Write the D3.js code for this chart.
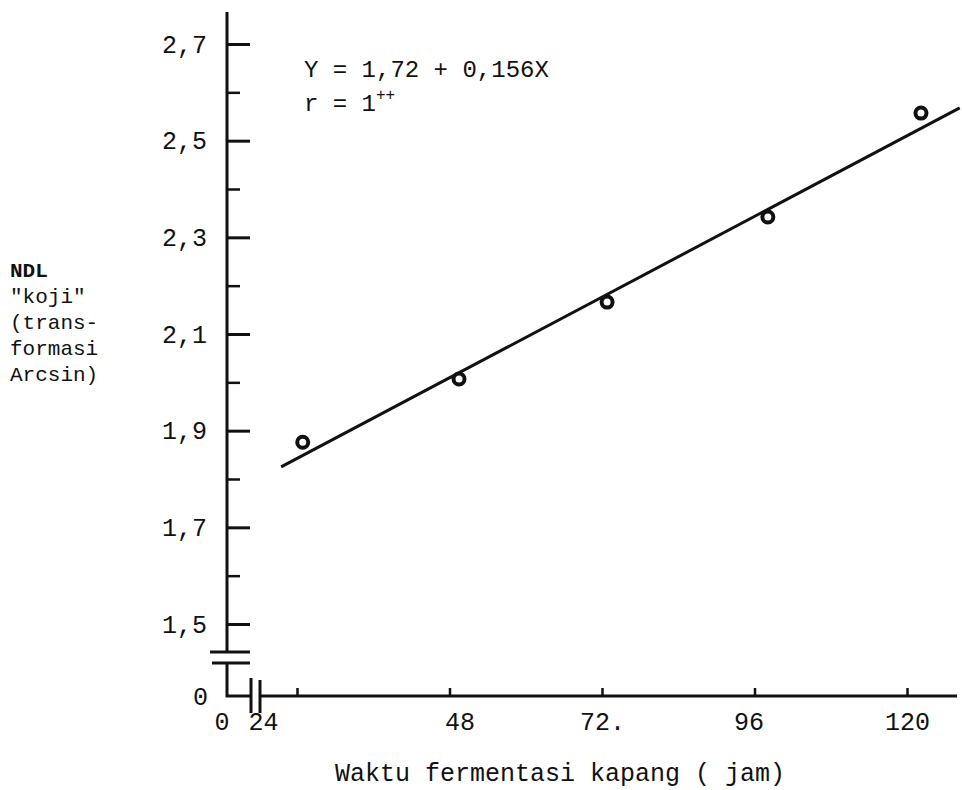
<!DOCTYPE html>
<html>
<head>
<meta charset="utf-8">
<script src="https://cdn.jsdelivr.net/npm/d3@7"></script>
<style>
  body { margin: 0; background: #fff; }
  text { font-family: "Liberation Mono", "Courier New", monospace; fill: #111; }
</style>
</head>
<body>
<div id="canvas"></div>
<script>
"use strict"

/* data */
let hours = [24.9, 49.5, 72.8, 98.1, 122.2];
let ndl = [1.876, 2.007, 2.166, 2.342, 2.557];

/* regression line, as drawn */
let lineX = [21.5, 128.3];
let lineY = [1.825, 2.568];

/* ticks */
let xTicks = [24, 48, 72, 96, 120];
let xTickLabels = ["24", "48", "72.", "96", "120"];
let yMajor = [1.5, 1.7, 1.9, 2.1, 2.3, 2.5, 2.7];
let yTickLabels = ["1,5", "1,7", "1,9", "2,1", "2,3", "2,5", "2,7"];
let yMinor = [1.6, 1.8, 2.0, 2.2, 2.4, 2.6];

let yLabelLines = ["NDL", "\"koji\"", "(trans-", "formasi", "Arcsin)"];

/* canvas */
let drawing = d3.select("#canvas")
    .append("svg")
    .attr("width", 962)
    .attr("height", 790);

let axisX = 227;      // y axis position (x = 0)
let baseY = 696;      // x axis position (y = 0)

let x = d3.scaleLinear().domain([24, 120]).range([297, 907]);
let y = d3.scaleLinear().domain([1.5, 2.7]).range([624, 44]);

let ink = "#111";

/* y axis line with break */
drawing.append("line")
    .attr("x1", axisX).attr("y1", 12)
    .attr("x2", axisX).attr("y2", 652)
    .attr("stroke", ink).attr("stroke-width", 3);

drawing.append("path")
    .attr("d", `M${axisX},663 V${baseY} H251`)
    .attr("fill", "none")
    .attr("stroke", ink).attr("stroke-width", 3);

/* break marks on y axis */
drawing.append("line")
    .attr("x1", 210).attr("y1", 652).attr("x2", 250).attr("y2", 652)
    .attr("stroke", ink).attr("stroke-width", 3);
drawing.append("line")
    .attr("x1", 212).attr("y1", 663).attr("x2", 250).attr("y2", 663)
    .attr("stroke", ink).attr("stroke-width", 3);

/* major ticks */
let yAxisMajor = d3.axisLeft(y)
    .tickValues(yMajor)
    .tickSize(-23)
    .tickPadding(20)
    .tickFormat((d, i) => yTickLabels[i]);

let gy = drawing.append("g")
    .attr("transform", `translate(${axisX},0)`)
    .call(yAxisMajor);
gy.select(".domain").remove();
gy.selectAll("line").attr("stroke", ink).attr("stroke-width", 3);
gy.selectAll("text")
    .attr("font-size", 25)
    .attr("font-family", "Liberation Mono");

/* minor ticks */
let gyMinor = drawing.append("g")
    .attr("transform", `translate(${axisX},0)`)
    .call(d3.axisLeft(y).tickValues(yMinor).tickSize(-13).tickFormat(""));
gyMinor.select(".domain").remove();
gyMinor.selectAll("line").attr("stroke", ink).attr("stroke-width", 2.5);

/* zero labels */
drawing.append("text")
    .attr("x", 208).attr("y", baseY)
    .attr("dy", "0.35em")
    .attr("text-anchor", "end")
    .attr("font-size", 25)
    .text("0");

drawing.append("text")
    .attr("x", axisX - 5).attr("y", 730)
    .attr("text-anchor", "middle")
    .attr("font-size", 25)
    .text("0");

/* x axis with break */
drawing.append("line")
    .attr("x1", 251).attr("y1", 678).attr("x2", 251).attr("y2", 713)
    .attr("stroke", ink).attr("stroke-width", 3);
drawing.append("line")
    .attr("x1", 260).attr("y1", 680).attr("x2", 260).attr("y2", 713)
    .attr("stroke", ink).attr("stroke-width", 3);

drawing.append("line")
    .attr("x1", 260).attr("y1", baseY)
    .attr("x2", 957).attr("y2", baseY)
    .attr("stroke", ink).attr("stroke-width", 3);

let gx = drawing.append("g")
    .attr("transform", `translate(0,${baseY})`)
    .call(d3.axisBottom(x)
        .tickValues(xTicks)
        .tickSize(-8)
        .tickPadding(16)
        .tickFormat((d, i) => xTickLabels[i]));
gx.select(".domain").remove();
gx.selectAll("line").attr("stroke", ink).attr("stroke-width", 2.5);
gx.selectAll("text")
    .attr("font-size", 25)
    .attr("font-family", "Liberation Mono")
    // the typed labels sit a little off their ticks
    .attr("dx", d => d === 24 ? -34 : d === 48 ? 10 : d === 96 ? -6 : 0);

/* axis title */
drawing.append("text")
    .attr("x", 560).attr("y", 781)
    .attr("text-anchor", "middle")
    .attr("font-size", 25)
    .text("Waktu fermentasi kapang ( jam)");

/* y label */
drawing.append("g")
    .selectAll("text")
    .data(yLabelLines)
    .join("text")
    .attr("x", 10)
    .attr("y", (d, i) => 277 + i * 26)
    .attr("font-size", 21)
    .attr("font-weight", (d, i) => i === 0 ? "bold" : "normal")
    .text(d => d);

/* equation */
drawing.append("text")
    .attr("x", 304).attr("y", 77)
    .attr("font-size", 24)
    .text("Y = 1,72 + 0,156X");

let rText = drawing.append("text")
    .attr("x", 304).attr("y", 111)
    .attr("font-size", 24);
rText.append("tspan").text("r = 1");
rText.append("tspan")
    .attr("dy", -11)
    .attr("font-size", 16)
    .text("++");

/* regression line */
drawing.append("line")
    .attr("x1", x(lineX[0])).attr("y1", y(lineY[0]))
    .attr("x2", x(lineX[1])).attr("y2", y(lineY[1]))
    .attr("stroke", ink)
    .attr("stroke-width", 3);

/* points */
drawing.append("g")
    .selectAll("circle")
    .data(hours)
    .join("circle")
    .attr("cx", d => x(d))
    .attr("cy", (d, i) => y(ndl[i]))
    .attr("r", 5.5)
    .attr("fill", "white")
    .attr("stroke", ink)
    .attr("stroke-width", 4);
</script>
</body>
</html>
